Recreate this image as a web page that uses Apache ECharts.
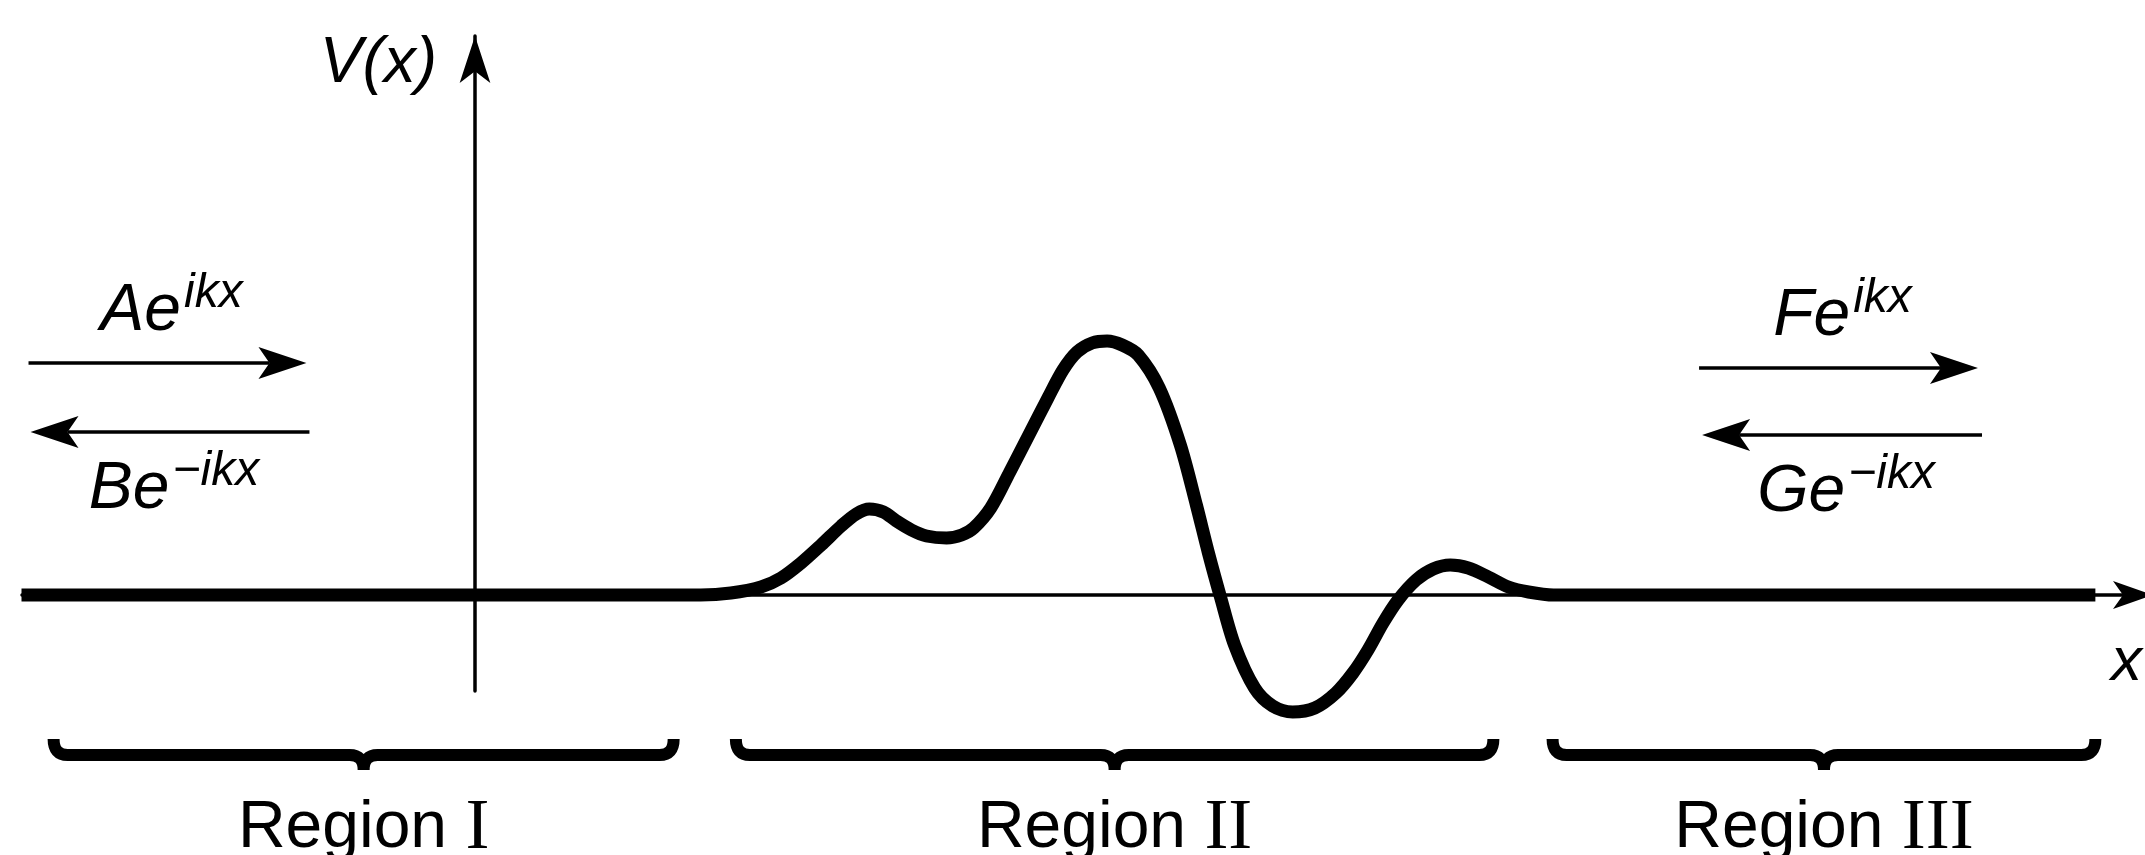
<!DOCTYPE html>
<html>
<head>
<meta charset="utf-8">
<script src="https://cdn.jsdelivr.net/npm/echarts@6/dist/echarts.min.js"></script>
<style>
html, body { margin: 0; padding: 0; background: #ffffff; }
#chart { width: 2145px; height: 855px; }
</style>
</head>
<body>
<div id="chart"></div>
<script>
// ---- potential V(x) (x in arbitrary units, y-axis at x = 0) ----
const curveX = [-4.52, 2.25, 2.55, 2.85, 3.05, 3.25, 3.45, 3.65, 3.80, 3.93, 4.07, 4.20, 4.35, 4.50, 4.70, 4.85, 4.97, 5.14, 5.33, 5.52, 5.71, 5.86, 6.00, 6.15, 6.30, 6.45, 6.61, 6.82, 7.03, 7.19, 7.31, 7.43, 7.57, 7.77, 7.95, 8.15, 8.37, 8.58, 8.75, 8.90, 9.05, 9.20, 9.38, 9.55, 9.72, 9.90, 10.10, 10.30, 10.50, 10.75, 16.15];
const curveY = [0, 0, 0.02, 0.08, 0.17, 0.32, 0.50, 0.69, 0.81, 0.86, 0.83, 0.74, 0.65, 0.59, 0.57, 0.60, 0.67, 0.87, 1.23, 1.60, 1.97, 2.25, 2.43, 2.52, 2.54, 2.50, 2.40, 2.07, 1.50, 0.90, 0.42, -0.02, -0.50, -0.93, -1.11, -1.17, -1.13, -0.98, -0.78, -0.55, -0.28, -0.05, 0.15, 0.26, 0.30, 0.27, 0.18, 0.08, 0.03, 0, 0];

// ---- incoming / outgoing waves ----
const waveCoef = ['A', 'B', 'F', 'G'];
const waveExp = ['ikx', '\u2212ikx', 'ikx', '\u2212ikx'];
const waveFrom = [-4.45, -1.65, 12.20, 15.02];
const waveTo = [-1.68, -4.43, 14.98, 12.23];
const waveLevel = [2.32, 1.63, 2.27, 1.60];

// ---- regions ----
const regionWord = 'Region';
const regionNumerals = ['I', 'II', 'III'];
const regionStart = [-4.20, 2.60, 10.74];
const regionEnd = [1.98, 10.15, 16.15];

const SANS = "'Liberation Sans', Arial, Helvetica, sans-serif";
const SERIF = "'Liberation Serif', 'Times New Roman', serif";
const BRACE_LEVEL = -1.60;

const chart = echarts.init(document.getElementById('chart'), null, { renderer: 'canvas' });

const option = {
  backgroundColor: '#ffffff',
  animation: false,
  grid: { left: 22, right: 0, top: 36, bottom: 164, containLabel: false },
  xAxis: {
    type: 'value', min: -4.515, max: 16.505,
    splitLine: { show: false }, axisTick: { show: false }, axisLabel: { show: false },
    axisLine: { show: true, onZero: true, lineStyle: { color: '#000', width: 3.5 }, symbol: ['none', 'arrow'], symbolSize: [21, 40], symbolOffset: [0, 22] },
    name: 'x', nameLocation: 'end', nameGap: -20,
    nameTextStyle: { fontFamily: SANS, fontStyle: 'italic', fontSize: 62, color: '#000', align: 'left', verticalAlign: 'top', padding: [37, 0, 0, 0] }
  },
  yAxis: {
    type: 'value', min: -0.96, max: 5.59,
    splitLine: { show: false }, axisTick: { show: false }, axisLabel: { show: false },
    axisLine: { show: true, onZero: true, lineStyle: { color: '#000', width: 3.5 }, symbol: ['none', 'arrow'], symbolSize: [23, 47] },
    name: 'V(x)', nameLocation: 'end', nameGap: -28,
    nameTextStyle: { fontFamily: SANS, fontStyle: 'italic', fontSize: 64, color: '#000', align: 'right', verticalAlign: 'middle', padding: [0, 38, 0, 0] }
  },
  series: [
    {
      type: 'line', name: 'V(x)',
      data: curveX.map((x, i) => [x, curveY[i]]),
      smooth: 0.3, symbol: 'none', clip: false,
      lineStyle: { color: '#000', width: 13, cap: 'butt', join: 'round' },
      z: 5
    },
    {
      type: 'custom', name: 'waves', coordinateSystem: 'cartesian2d',
      data: waveCoef.map((c, i) => [waveFrom[i], waveTo[i], waveLevel[i], i]),
      encode: { x: [0, 1], y: 2 },
      clip: false,
      renderItem: function (params, api) {
        const i = api.value(3);
        const p1 = api.coord([api.value(0), api.value(2)]);
        const p2 = api.coord([api.value(1), api.value(2)]);
        const dir = p2[0] > p1[0] ? 1 : -1;
        const headLen = 48, headHalf = 16, notch = 37;
        const head = [
          [p2[0], p2[1]],
          [p2[0] - dir * headLen, p2[1] - headHalf],
          [p2[0] - dir * notch, p2[1]],
          [p2[0] - dir * headLen, p2[1] + headHalf]
        ];
        const cx = (p1[0] + p2[0]) / 2 + 4;
        const ty = dir > 0 ? p1[1] - 93 : p1[1] + 16;
        return {
          type: 'group',
          children: [
            { type: 'line', shape: { x1: p1[0], y1: p1[1], x2: p2[0] - dir * notch, y2: p2[1] }, style: { stroke: '#000', lineWidth: 3.5 } },
            { type: 'polygon', shape: { points: head }, style: { fill: '#000' } },
            {
              type: 'text', x: cx, y: ty,
              style: {
                text: '{m|' + waveCoef[i] + 'e}{s|' + waveExp[i] + '}',
                align: 'center', verticalAlign: 'top', fill: '#000',
                rich: {
                  m: { fontFamily: SANS, fontStyle: 'italic', fontSize: 66, lineHeight: 83, fill: '#000' },
                  s: { fontFamily: SANS, fontStyle: 'italic', fontSize: 48, verticalAlign: 'top', fill: '#000', padding: [0, 0, 0, 3] }
                }
              }
            }
          ]
        };
      },
      z: 6
    },
    {
      type: 'custom', name: 'regions', coordinateSystem: 'cartesian2d',
      data: regionNumerals.map((r, i) => [regionStart[i], regionEnd[i], i]),
      encode: { x: [0, 1] },
      clip: false,
      renderItem: function (params, api) {
        const i = api.value(2);
        const a = api.coord([api.value(0), BRACE_LEVEL]);
        const b = api.coord([api.value(1), BRACE_LEVEL]);
        const y = a[1], x0 = a[0], x1 = b[0], xm = (x0 + x1) / 2;
        const rise = 16, r = 14, rt = 14, drop = 15;
        const d = 'M' + x0 + ',' + (y - rise) +
          ' Q' + x0 + ',' + y + ' ' + (x0 + r) + ',' + y +
          ' L' + (xm - rt) + ',' + y +
          ' Q' + xm + ',' + y + ' ' + xm + ',' + (y + drop) +
          ' Q' + xm + ',' + y + ' ' + (xm + rt) + ',' + y +
          ' L' + (x1 - r) + ',' + y +
          ' Q' + x1 + ',' + y + ' ' + x1 + ',' + (y - rise);
        return {
          type: 'group',
          children: [
            { type: 'path', shape: { pathData: d }, style: { stroke: '#000', lineWidth: 12, fill: null, lineJoin: 'miter' } },
            {
              type: 'text', x: xm, y: y + 74,
              style: {
                text: '{a|' + regionWord + ' }{b|' + regionNumerals[i] + '}',
                align: 'center', verticalAlign: 'middle', fill: '#000',
                rich: {
                  a: { fontFamily: SANS, fontSize: 66, fill: '#000' },
                  b: { fontFamily: SERIF, fontSize: 72, fill: '#000' }
                }
              }
            }
          ]
        };
      },
      z: 6
    }
  ]
};

chart.setOption(option);
</script>
</body>
</html>
